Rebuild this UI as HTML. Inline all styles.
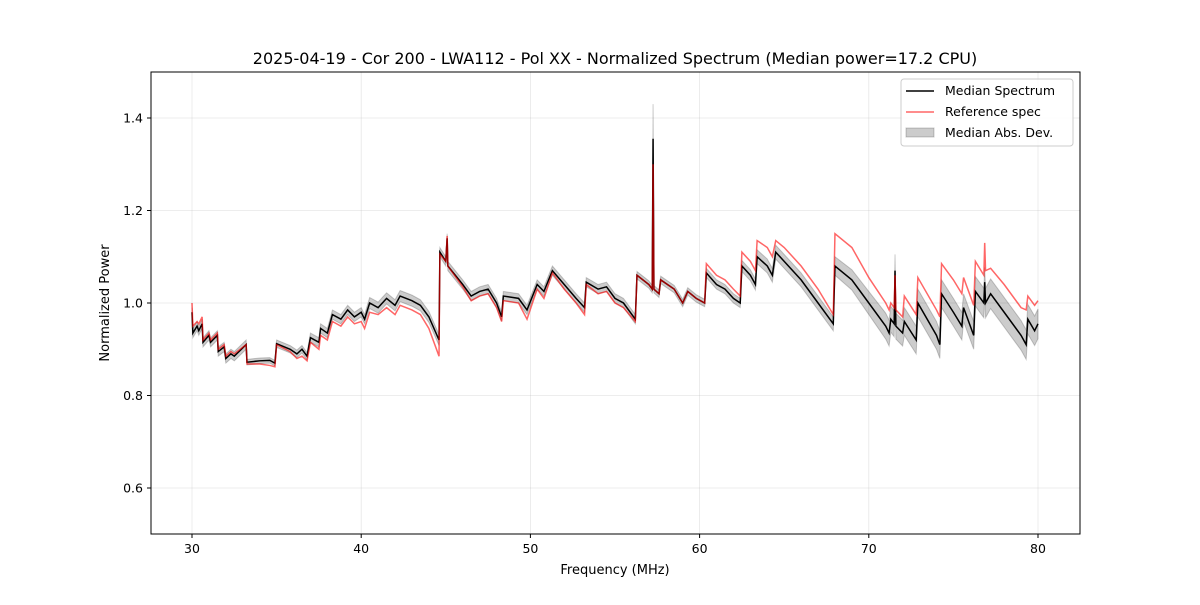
<!DOCTYPE html>
<html><head><meta charset="utf-8"><style>
body{margin:0;background:#fff;}
svg{font-family:"DejaVu Sans","Liberation Sans",sans-serif;}
</style></head><body>
<svg id="chart" width="1200" height="600" viewBox="0 0 1200 600" xmlns="http://www.w3.org/2000/svg">
<rect width="1200" height="600" fill="#fff"/>
<text x="615" y="64" font-size="16" text-anchor="middle">2025-04-19 - Cor 200 - LWA112 - Pol XX - Normalized Spectrum (Median power=17.2 CPU)</text>
<g id="grid"></g><g id="band"></g><g id="lines"></g><g id="ticks"></g>
<rect x="151" y="72" width="929" height="462" fill="none" stroke="#000" stroke-width="1"/>
<text x="615" y="574" font-size="13" text-anchor="middle">Frequency (MHz)</text>
<text x="109" y="303" font-size="13" text-anchor="middle" transform="rotate(-90 109 303)">Normalized Power</text>
<g>
<rect x="901" y="79" width="172" height="67" rx="3" fill="#fff" fill-opacity="0.8" stroke="#ccc"/>
<line x1="906" y1="91" x2="934" y2="91" stroke="#000" stroke-width="1.5"/>
<text x="945" y="95" font-size="12.5">Median Spectrum</text>
<line x1="906" y1="112" x2="934" y2="112" stroke="#f00" stroke-opacity="0.6" stroke-width="1.5"/>
<text x="945" y="116" font-size="12.5">Reference spec</text>
<rect x="906" y="128" width="28" height="9" fill="#000" fill-opacity="0.2" stroke="#000" stroke-opacity="0.2"/>
<text x="945" y="137" font-size="12.5">Median Abs. Dev.</text>
</g>
</svg>
<script>
const freqs=[30,30.05,30.3,30.4,30.6,30.65,31,31.1,31.5,31.55,31.9,32,32.3,32.5,33.2,33.25,34,34.6,34.9,35,35.8,36.2,36.5,36.8,37,37.5,37.6,38,38.3,38.8,39.2,39.6,40,40.2,40.5,41,41.5,42,42.3,43,43.5,44,44.6,44.65,45,45.08,45.12,46,46.5,47,47.5,48,48.3,48.4,49.3,49.8,50.4,50.8,51.3,52,52.7,53.2,53.3,54,54.5,55,55.5,56.2,56.3,57,57.2,57.25,57.3,57.6,57.7,58.5,59,59.3,59.8,60.3,60.4,61,61.5,62,62.4,62.5,63,63.3,63.4,64,64.3,64.5,65,66,67,67.9,68,69,70,71,71.2,71.3,71.5,71.55,71.6,72,72.1,72.8,72.9,74,74.2,74.3,75,75.5,75.6,76.2,76.3,76.8,76.85,76.9,77.2,78,79,79.3,79.4,79.8,80];
const median=[0.98,0.935,0.95,0.94,0.955,0.915,0.93,0.915,0.93,0.895,0.905,0.88,0.89,0.885,0.91,0.872,0.875,0.876,0.87,0.912,0.9,0.89,0.9,0.885,0.925,0.915,0.945,0.935,0.975,0.965,0.985,0.97,0.98,0.965,1.0,0.99,1.01,0.995,1.015,1.005,0.995,0.97,0.92,1.11,1.09,1.14,1.08,1.04,1.015,1.025,1.03,1.0,0.97,1.015,1.01,0.985,1.04,1.025,1.07,1.04,1.01,0.99,1.045,1.03,1.035,1.01,1.0,0.965,1.06,1.04,1.03,1.355,1.03,1.02,1.05,1.03,1.0,1.025,1.01,1.0,1.065,1.04,1.03,1.01,1.0,1.08,1.06,1.04,1.1,1.08,1.06,1.11,1.09,1.05,1.0,0.955,1.08,1.05,1.0,0.95,0.935,0.965,0.955,1.07,0.95,0.935,0.96,0.92,1.0,0.93,0.91,1.02,0.98,0.95,0.99,0.93,1.025,1.0,1.045,1.0,1.02,0.98,0.93,0.91,0.965,0.94,0.955];
const reference=[1.0,0.95,0.96,0.955,0.97,0.92,0.935,0.92,0.935,0.9,0.91,0.885,0.895,0.89,0.91,0.868,0.868,0.865,0.862,0.91,0.895,0.88,0.885,0.875,0.915,0.9,0.93,0.92,0.96,0.95,0.97,0.955,0.96,0.945,0.98,0.975,0.99,0.975,0.995,0.985,0.975,0.945,0.885,1.105,1.09,1.145,1.08,1.035,1.005,1.015,1.02,0.99,0.96,1.005,1.0,0.965,1.03,1.01,1.065,1.03,1.0,0.975,1.04,1.02,1.025,1.0,0.99,0.96,1.06,1.04,1.03,1.3,1.03,1.02,1.05,1.03,1.0,1.025,1.01,1.0,1.085,1.06,1.05,1.03,1.015,1.11,1.09,1.07,1.135,1.12,1.1,1.135,1.12,1.08,1.03,0.975,1.15,1.12,1.055,1.0,0.985,1.0,0.99,1.06,0.985,0.97,1.015,0.975,1.055,0.985,0.97,1.085,1.05,1.02,1.055,0.995,1.09,1.06,1.13,1.07,1.075,1.04,0.99,0.985,1.015,0.995,1.005];
const mad=[0.01,0.01,0.01,0.01,0.01,0.01,0.01,0.01,0.01,0.01,0.01,0.01,0.01,0.01,0.01,0.006,0.006,0.006,0.006,0.008,0.008,0.008,0.008,0.008,0.01,0.01,0.01,0.01,0.01,0.01,0.01,0.01,0.01,0.01,0.012,0.012,0.012,0.012,0.012,0.012,0.012,0.012,0.012,0.01,0.01,0.01,0.01,0.01,0.01,0.01,0.01,0.01,0.01,0.01,0.01,0.01,0.01,0.01,0.01,0.01,0.01,0.01,0.01,0.01,0.01,0.01,0.01,0.01,0.008,0.008,0.008,0.075,0.008,0.008,0.008,0.008,0.008,0.008,0.008,0.008,0.01,0.01,0.01,0.01,0.01,0.012,0.012,0.012,0.015,0.015,0.015,0.015,0.015,0.015,0.015,0.015,0.02,0.022,0.025,0.028,0.028,0.028,0.028,0.035,0.028,0.028,0.03,0.03,0.03,0.03,0.03,0.03,0.03,0.03,0.03,0.03,0.032,0.032,0.032,0.032,0.032,0.032,0.032,0.032,0.032,0.032,0.032];
const xTicks=[30,40,50,60,70,80];
const yTicks=[0.6,0.8,1.0,1.2,1.4];
const NS="http://www.w3.org/2000/svg";
const xS=f=>192+(f-30)*(1038-192)/50;
const yS=v=>303-(v-1.0)*462.5;
function mk(t,a,p){const e=document.createElementNS(NS,t);for(const k in a)e.setAttribute(k,a[k]);p.appendChild(e);return e;}
const grid=document.getElementById('grid'),ticks=document.getElementById('ticks');
xTicks.forEach(t=>{const x=xS(t);
 const g=mk('line',{x1:x,x2:x,y1:72,y2:534,stroke:'#b0b0b0','stroke-opacity':0.3,'stroke-width':0.8},grid);
 
 
 mk('line',{x1:x,x2:x,y1:534,y2:538,stroke:'#000'},ticks);
 const l=mk('text',{x:x,y:553,'font-size':12.5,'text-anchor':'middle'},ticks);l.textContent=t;
 
 });
yTicks.forEach(t=>{const y=yS(t);
 const g=mk('line',{x1:151,x2:1080,y1:y,y2:y,stroke:'#b0b0b0','stroke-opacity':0.3,'stroke-width':0.8},grid);
 
 
 mk('line',{x1:147,x2:151,y1:y,y2:y,stroke:'#000'},ticks);
 const l=mk('text',{x:143,y:y+4.5,'font-size':12.5,'text-anchor':'end'},ticks);l.textContent=t.toFixed(1);
 
 });
let up=freqs.map((f,i)=>xS(f)+','+yS(median[i]+mad[i]));
let dn=freqs.map((f,i)=>xS(f)+','+yS(median[i]-mad[i])).reverse();
const band=mk('polygon',{points:up.concat(dn).join(' '),fill:'#000','fill-opacity':0.2,stroke:'#000','stroke-opacity':0.2},document.getElementById('band'));


const lines=document.getElementById('lines');
const ml=mk('polyline',{points:freqs.map((f,i)=>xS(f)+','+yS(median[i])).join(' '),fill:'none',stroke:'#000','stroke-width':1.5},lines);


const rl=mk('polyline',{points:freqs.map((f,i)=>xS(f)+','+yS(reference[i])).join(' '),fill:'none',stroke:'#f00','stroke-opacity':0.6,'stroke-width':1.5},lines);


</script>
</body></html>
